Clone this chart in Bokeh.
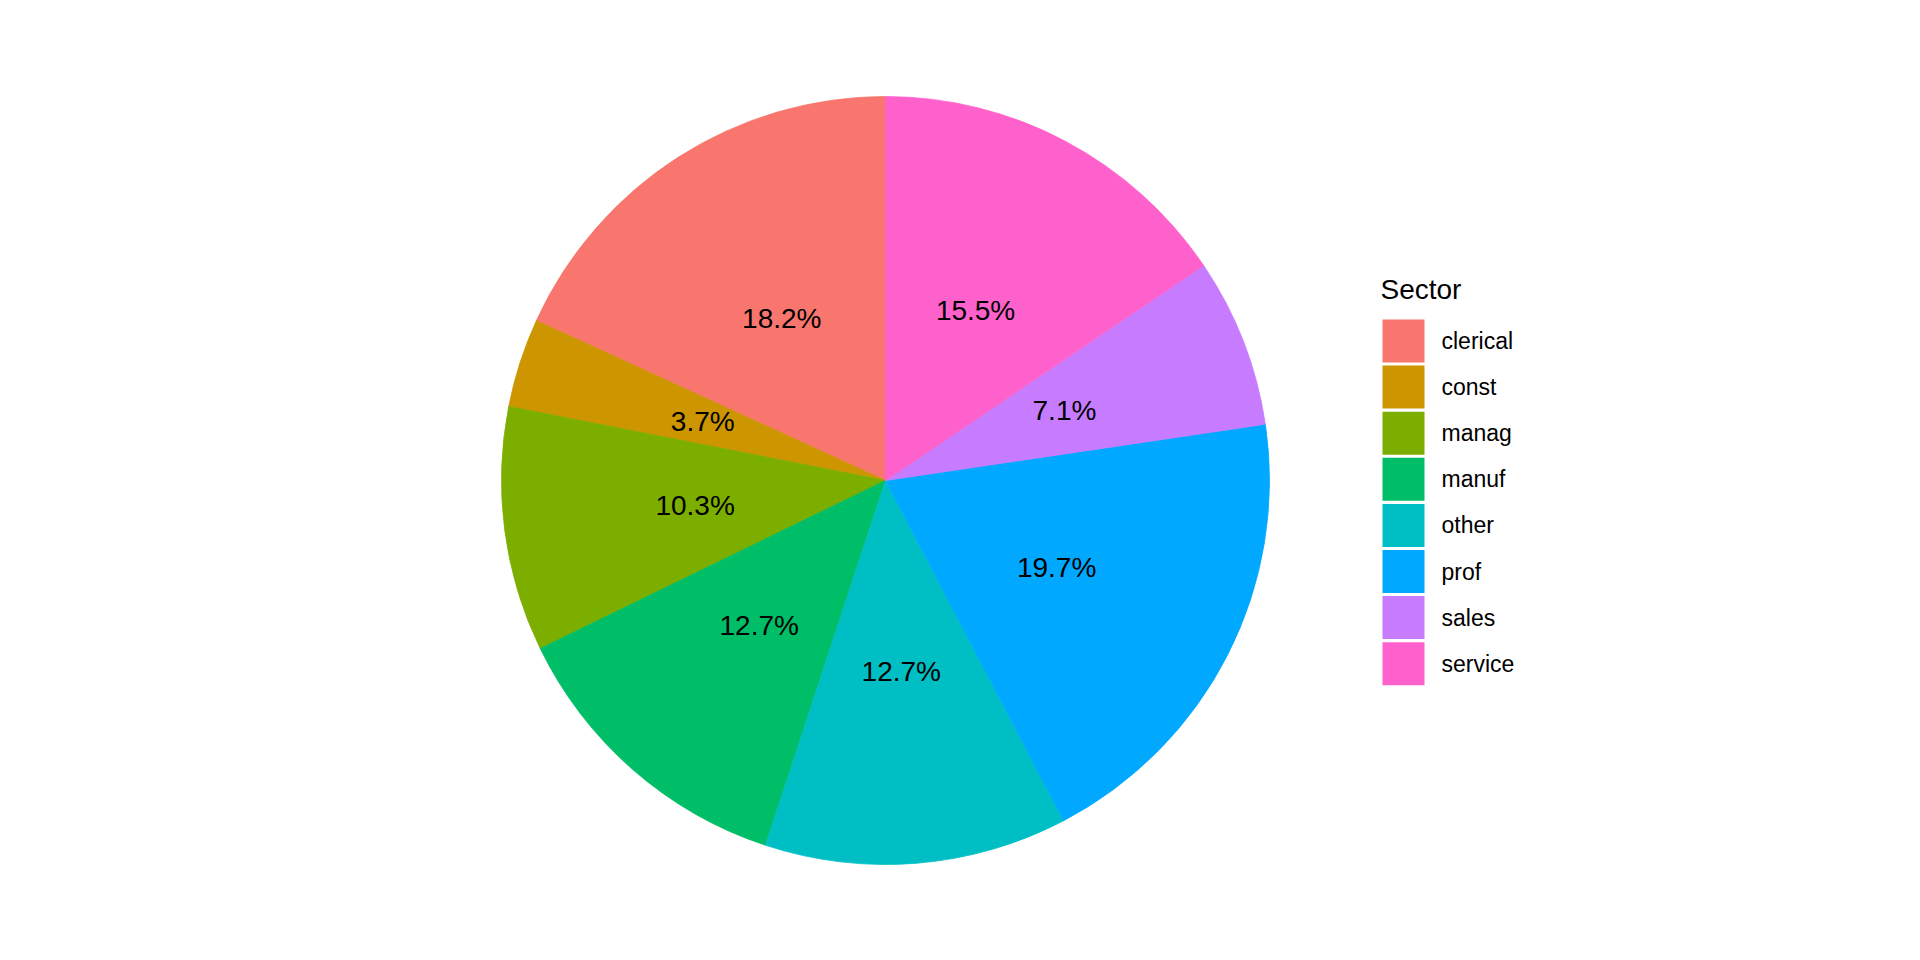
import numpy as np
from bokeh.plotting import figure
from bokeh.models import Range1d, ColumnDataSource
from bokeh.core.properties import value
from bokeh.embed import file_html
from bokeh.resources import INLINE

sectors = ["clerical", "const", "manag", "manuf", "other", "prof", "sales", "service"]
counts = [97, 20, 55, 68, 68, 105, 38, 83]
colors = ["#F8766D", "#CD9600", "#7CAE00", "#00BE67", "#00BFC4", "#00A9FF", "#C77CFF", "#FF61CC"]
legend_title = "Sector"

W, H = 1904, 944
PAGE_H = 960
FONT = "Liberation Sans"

def py(y):
    return PAGE_H - y

p = figure(width=W, height=H, output_backend="svg", toolbar_location=None,
           x_range=Range1d(0, W), y_range=Range1d(PAGE_H - H, PAGE_H),
           min_border=0)
p.axis.visible = False
p.grid.visible = False
p.outline_line_color = None
p.background_fill_color = "white"
p.border_fill_color = "white"

cx, cy, R = 885, py(480), 384
total = float(sum(counts))
frac = np.array(counts) / total
cum = np.concatenate([[0], np.cumsum(frac)])
start = np.pi / 2 + 2 * np.pi * cum[:-1]
end = np.pi / 2 + 2 * np.pi * cum[1:]
mid = (start + end) / 2

src = ColumnDataSource(dict(start=start, end=end, color=colors, sector=sectors))
p.wedge(x=cx, y=cy, radius=R, start_angle="start", end_angle="end", direction="anticlock",
        fill_color="color", line_color="color", line_width=0.8, source=src)

labels = [f"{f*100:.1f}%" for f in frac]
lsrc = ColumnDataSource(dict(x=cx + R / 2 * np.cos(mid), y=cy + R / 2 * np.sin(mid), t=labels))
p.text(x="x", y="y", text="t", source=lsrc, text_align="center", text_baseline="middle",
       text_font=value(FONT), text_font_size="28px", text_color="black")

# legend
n = len(sectors)
tops = 319 + 46.1 * np.arange(n)
sw = ColumnDataSource(dict(x=[1403] * n, y=[py(t + 21.5) for t in tops], color=colors,
                           lx=[1441] * n, t=sectors))
p.rect(x="x", y="y", width=42, height=43, fill_color="color", line_color=None, source=sw)
p.text(x="lx", y="y", text="t", source=sw, text_align="left", text_baseline="middle",
       text_font=value(FONT), text_font_size="23px", text_color="black")
p.text(x=[1380], y=[py(289)], text=[legend_title], text_align="left", text_baseline="middle",
       text_font=value(FONT), text_font_size="28px", text_color="black")

open("out.html", "w").write(file_html(p, INLINE))
